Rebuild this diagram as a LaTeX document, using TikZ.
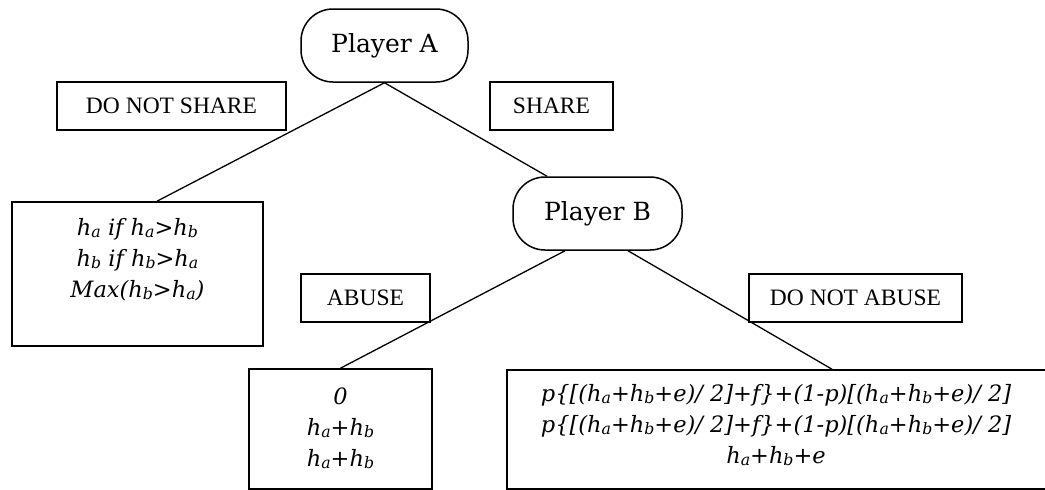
\documentclass[tikz,border=0pt]{standalone}
\usepackage{fontspec}
\setmainfont{Liberation Serif}
\newfontfamily\bkfont{DejaVu Serif}
\usetikzlibrary{positioning}
\newcommand\sbs[1]{\raisebox{-0.1em}{\scalebox{0.7}{#1}}}
\tikzset{
  player/.style={draw, line width=1.5pt, rounded corners=32pt, inner sep=0pt,
    font=\bkfont\fontsize{25}{28}\selectfont},
  lbl/.style={draw, line width=1.5pt, inner sep=0pt,
    font=\fontsize{23.5}{26}\selectfont},
  leaf/.style={draw, line width=1.6pt, inner sep=0pt},
  leaftext/.style={anchor=north, inner sep=0pt, align=center,
    font=\bkfont\itshape\fontsize{22.5}{31}\selectfont},
  edge/.style={line width=1.3pt}
}
\begin{document}
\begin{tikzpicture}[x=1pt,y=-1pt]
\useasboundingbox (0,0) rectangle (1045,490);
% players
\node[player, minimum width=167pt, minimum height=73pt] (A) at (384.5,45.5) {Player A};
\node[player, minimum width=169pt, minimum height=73pt] (B) at (597.5,213.5) {Player B};
% action labels
\node[lbl, minimum width=229pt, minimum height=48pt] (ns) at (171.5,106) {DO NOT SHARE};
\node[lbl, minimum width=123pt, minimum height=48pt] (sh) at (551.5,106) {SHARE};
\node[lbl, minimum width=129pt, minimum height=48pt] (ab) at (365.5,298) {ABUSE};
\node[lbl, minimum width=213pt, minimum height=48pt] (na) at (855.5,298) {DO NOT ABUSE};
% leaves
\node[leaf, minimum width=251pt, minimum height=144pt] (L) at (137.5,274) {};
\node[leaf, minimum width=183pt, minimum height=120pt] (M) at (340.5,429) {};
\node[leaf, minimum width=550pt, minimum height=119pt] (R) at (782,429.5) {};
\node[leaftext] (Lt) at ([yshift=-17pt]L.north) {h\sbs{a} if h\sbs{a}>h\sbs{b}\\ h\sbs{b} if h\sbs{b}>h\sbs{a}\\ Max(h\sbs{b}>h\sbs{a})};
\node[leaftext] (Mt) at ([yshift=-19pt]M.north) {0\\ h\sbs{a}+h\sbs{b}\\ h\sbs{a}+h\sbs{b}};
\node[leaftext] (Rt) at ([xshift=-6pt,yshift=-15pt]R.north) {p\{[(h\sbs{a}+h\sbs{b}+e)/ 2]+f\}+(1-p)[(h\sbs{a}+h\sbs{b}+e)/ 2]\\ p\{[(h\sbs{a}+h\sbs{b}+e)/ 2]+f\}+(1-p)[(h\sbs{a}+h\sbs{b}+e)/ 2]\\ h\sbs{a}+h\sbs{b}+e};
% connectors
\draw[edge] (A.south) -- ([xshift=19.5pt]L.north);
\draw[edge] (A.south) -- ([xshift=-50.5pt]B.north);
\draw[edge] ([xshift=-32.5pt]B.south) -- (M.north);
\draw[edge] ([xshift=30.5pt]B.south) -- ([xshift=50pt]R.north);
\end{tikzpicture}
\end{document}
